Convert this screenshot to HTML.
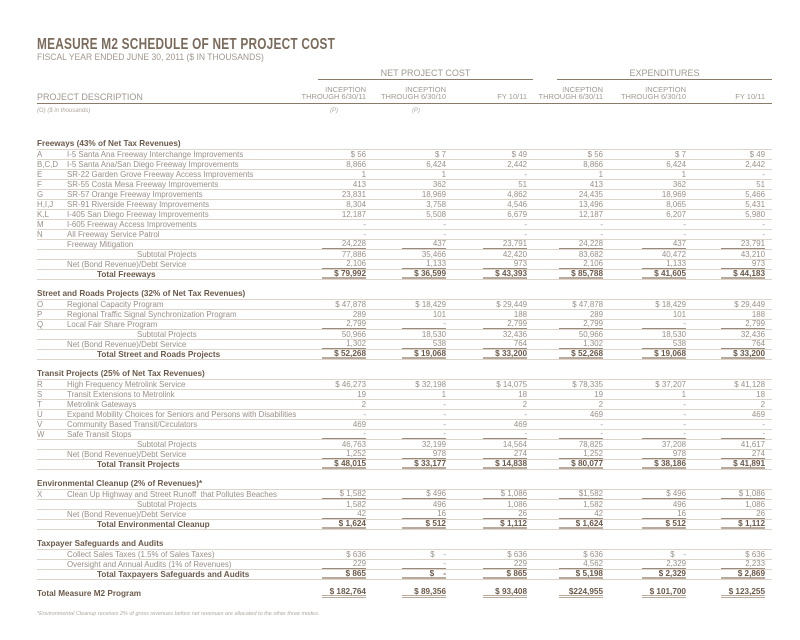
<!DOCTYPE html>
<html><head><meta charset="utf-8"><style>
*{margin:0;padding:0;box-sizing:border-box}
body{width:800px;height:640px;background:#fff;font-family:"Liberation Sans",sans-serif;color:#9a9088;position:relative;overflow:hidden}
.title{position:absolute;left:37px;top:36px;font-size:16px;font-weight:bold;color:#7b6b5b;transform:scaleX(0.74);transform-origin:left top;white-space:nowrap;letter-spacing:0.3px}
.sub{position:absolute;left:37px;top:52px;font-size:9.5px;color:#a09890;transform:scaleX(0.9);transform-origin:left top;white-space:nowrap}
.grp{position:absolute;top:68px;font-size:9px;color:#a09890;text-align:center;border-bottom:1.5px solid #8a7a6a;height:12px}
.ch{position:absolute;top:86px;font-size:7.5px;line-height:7px;color:#a09890;text-align:right}
.hline{position:absolute;left:37px;width:735px;top:103px;border-top:1.5px solid #8a7a6a}
.pd{position:absolute;left:37px;top:92px;font-size:9px;color:#a09890}
.it{position:absolute;top:108px;font-size:6px;font-style:italic;color:#b0a8a0}
table{position:absolute;left:37px;top:139px;border-collapse:collapse;table-layout:fixed;width:735px}
tr{height:10px}
td{height:9px;max-height:9px;font-size:7.9px;line-height:9px;padding:0;white-space:nowrap;overflow:visible;border-bottom:1px solid #ddd5cc;vertical-align:top}
td.n{text-align:right;padding-right:4px}
td.l{padding-right:7px}
tr.h td{color:#6b5a4a;font-weight:bold;font-size:8.2px}
tr.b td{border-bottom:none}
tr.s td.d{padding-left:70px}
tr.t td{color:#6b5a4a;font-weight:bold;font-size:8.2px}
tr.t td.d{padding-left:30px}
td span{display:inline-block;vertical-align:top;min-width:44px;text-align:right}
tr.t td.n span{border-bottom:2px solid #b8aa9c;line-height:7px;height:9px}
span.u{border-bottom:1px solid #9a8a7a;line-height:8px;height:9px}
tr.g td{border-bottom:none}
tr.g td.n span{border-bottom:3px double #b8aa9c;line-height:6px;height:9px}
.fn{position:absolute;left:37px;top:611px;font-size:5.5px;font-style:italic;color:#b0a8a0}
</style></head><body>
<div class="title">MEASURE M2 SCHEDULE OF NET PROJECT COST</div>
<div class="sub">FISCAL YEAR ENDED JUNE 30, 2011 ($ IN THOUSANDS)</div>
<div class="grp" style="left:318px;width:215px">NET PROJECT COST</div>
<div class="grp" style="left:557px;width:215px">EXPENDITURES</div>
<div class="ch" style="left:300px;width:66px">INCEPTION<br>THROUGH 6/30/11</div>
<div class="ch" style="left:370px;width:76px">INCEPTION<br>THROUGH 6/30/10</div>
<div class="ch" style="left:470px;width:57px;top:93px">FY 10/11</div>
<div class="ch" style="left:531px;width:72px">INCEPTION<br>THROUGH 6/30/11</div>
<div class="ch" style="left:607px;width:79px">INCEPTION<br>THROUGH 6/30/10</div>
<div class="ch" style="left:700px;width:65px;top:93px">FY 10/11</div>
<div class="pd">PROJECT DESCRIPTION</div>
<div class="hline"></div>
<div class="it" style="left:37px">(G) ($ in thousands)</div>
<div class="it" style="left:330px">(P)</div>
<div class="it" style="left:412px">(P)</div>
<table>
<colgroup><col style="width:30px"><col style="width:233px"><col style="width:70px"><col style="width:80px"><col style="width:81px"><col style="width:76px"><col style="width:83px"><col style="width:82px"></colgroup>
<tr class="h"><td colspan="8">Freeways (43% of Net Tax Revenues)</td></tr>
<tr><td>A</td><td class="d">I-5 Santa Ana Freeway Interchange Improvements</td><td class="n">$ 56</td><td class="n">$ 7</td><td class="n">$ 49</td><td class="n">$ 56</td><td class="n">$ 7</td><td class="n l">$ 49</td></tr>
<tr><td>B,C,D</td><td class="d">I-5 Santa Ana/San Diego Freeway Improvements</td><td class="n">8,866</td><td class="n">6,424</td><td class="n">2,442</td><td class="n">8,866</td><td class="n">6,424</td><td class="n l">2,442</td></tr>
<tr><td>E</td><td class="d">SR-22 Garden Grove Freeway Access Improvements</td><td class="n">1</td><td class="n">1</td><td class="n">-</td><td class="n">1</td><td class="n">1</td><td class="n l">-</td></tr>
<tr><td>F</td><td class="d">SR-55 Costa Mesa Freeway Improvements</td><td class="n">413</td><td class="n">362</td><td class="n">51</td><td class="n">413</td><td class="n">362</td><td class="n l">51</td></tr>
<tr><td>G</td><td class="d">SR-57 Orange Freeway Improvements</td><td class="n">23,831</td><td class="n">18,969</td><td class="n">4,862</td><td class="n">24,435</td><td class="n">18,969</td><td class="n l">5,466</td></tr>
<tr><td>H,I,J</td><td class="d">SR-91 Riverside Freeway Improvements</td><td class="n">8,304</td><td class="n">3,758</td><td class="n">4,546</td><td class="n">13,496</td><td class="n">8,065</td><td class="n l">5,431</td></tr>
<tr><td>K,L</td><td class="d">I-405 San Diego Freeway Improvements</td><td class="n">12,187</td><td class="n">5,508</td><td class="n">6,679</td><td class="n">12,187</td><td class="n">6,207</td><td class="n l">5,980</td></tr>
<tr><td>M</td><td class="d">I-605 Freeway Access Improvements</td><td class="n">-</td><td class="n">-</td><td class="n">-</td><td class="n">-</td><td class="n">-</td><td class="n l">-</td></tr>
<tr><td>N</td><td class="d">All Freeway Service Patrol</td><td class="n">-</td><td class="n">-</td><td class="n">-</td><td class="n">-</td><td class="n">-</td><td class="n l">-</td></tr>
<tr><td></td><td class="d">Freeway Mitigation</td><td class="n"><span class="u">24,228</span></td><td class="n"><span class="u">437</span></td><td class="n"><span class="u">23,791</span></td><td class="n"><span class="u">24,228</span></td><td class="n"><span class="u">437</span></td><td class="n l"><span class="u">23,791</span></td></tr>
<tr class="s"><td></td><td class="d">Subtotal Projects</td><td class="n">77,886</td><td class="n">35,466</td><td class="n">42,420</td><td class="n">83,682</td><td class="n">40,472</td><td class="n l">43,210</td></tr>
<tr><td></td><td class="d">Net (Bond Revenue)/Debt Service</td><td class="n"><span class="u">2,106</span></td><td class="n"><span class="u">1,133</span></td><td class="n"><span class="u">973</span></td><td class="n"><span class="u">2,106</span></td><td class="n"><span class="u">1,133</span></td><td class="n l"><span class="u">973</span></td></tr>
<tr class="t"><td></td><td class="d">Total Freeways</td><td class="n"><span>$ 79,992</span></td><td class="n"><span>$ 36,599</span></td><td class="n"><span>$ 43,393</span></td><td class="n"><span>$ 85,788</span></td><td class="n"><span>$ 41,605</span></td><td class="n l"><span>$ 44,183</span></td></tr>
<tr class="b"><td colspan="8"></td></tr>
<tr class="h"><td colspan="8">Street and Roads Projects (32% of Net Tax Revenues)</td></tr>
<tr><td>O</td><td class="d">Regional Capacity Program</td><td class="n">$ 47,878</td><td class="n">$ 18,429</td><td class="n">$ 29,449</td><td class="n">$ 47,878</td><td class="n">$ 18,429</td><td class="n l">$ 29,449</td></tr>
<tr><td>P</td><td class="d">Regional Traffic Signal Synchronization Program</td><td class="n">289</td><td class="n">101</td><td class="n">188</td><td class="n">289</td><td class="n">101</td><td class="n l">188</td></tr>
<tr><td>Q</td><td class="d">Local Fair Share Program</td><td class="n"><span class="u">2,799</span></td><td class="n"><span class="u">-</span></td><td class="n"><span class="u">2,799</span></td><td class="n"><span class="u">2,799</span></td><td class="n"><span class="u">-</span></td><td class="n l"><span class="u">2,799</span></td></tr>
<tr class="s"><td></td><td class="d">Subtotal Projects</td><td class="n">50,966</td><td class="n">18,530</td><td class="n">32,436</td><td class="n">50,966</td><td class="n">18,530</td><td class="n l">32,436</td></tr>
<tr><td></td><td class="d">Net (Bond Revenue)/Debt Service</td><td class="n"><span class="u">1,302</span></td><td class="n"><span class="u">538</span></td><td class="n"><span class="u">764</span></td><td class="n"><span class="u">1,302</span></td><td class="n"><span class="u">538</span></td><td class="n l"><span class="u">764</span></td></tr>
<tr class="t"><td></td><td class="d">Total Street and Roads Projects</td><td class="n"><span>$ 52,268</span></td><td class="n"><span>$ 19,068</span></td><td class="n"><span>$ 33,200</span></td><td class="n"><span>$ 52,268</span></td><td class="n"><span>$ 19,068</span></td><td class="n l"><span>$ 33,200</span></td></tr>
<tr class="b"><td colspan="8"></td></tr>
<tr class="h"><td colspan="8">Transit Projects (25% of Net Tax Revenues)</td></tr>
<tr><td>R</td><td class="d">High Frequency Metrolink Service</td><td class="n">$ 46,273</td><td class="n">$ 32,198</td><td class="n">$ 14,075</td><td class="n">$ 78,335</td><td class="n">$ 37,207</td><td class="n l">$ 41,128</td></tr>
<tr><td>S</td><td class="d">Transit Extensions to Metrolink</td><td class="n">19</td><td class="n">1</td><td class="n">18</td><td class="n">19</td><td class="n">1</td><td class="n l">18</td></tr>
<tr><td>T</td><td class="d">Metrolink Gateways</td><td class="n">2</td><td class="n">-</td><td class="n">2</td><td class="n">2</td><td class="n">-</td><td class="n l">2</td></tr>
<tr><td>U</td><td class="d">Expand Mobility Choices for Seniors and Persons with Disabilities</td><td class="n">-</td><td class="n">-</td><td class="n">-</td><td class="n">469</td><td class="n">-</td><td class="n l">469</td></tr>
<tr><td>V</td><td class="d">Community Based Transit/Circulators</td><td class="n">469</td><td class="n">-</td><td class="n">469</td><td class="n">-</td><td class="n">-</td><td class="n l">-</td></tr>
<tr><td>W</td><td class="d">Safe Transit Stops</td><td class="n"><span class="u">-</span></td><td class="n"><span class="u">-</span></td><td class="n"><span class="u">-</span></td><td class="n"><span class="u">-</span></td><td class="n"><span class="u">-</span></td><td class="n l"><span class="u">-</span></td></tr>
<tr class="s"><td></td><td class="d">Subtotal Projects</td><td class="n">46,763</td><td class="n">32,199</td><td class="n">14,564</td><td class="n">78,825</td><td class="n">37,208</td><td class="n l">41,617</td></tr>
<tr><td></td><td class="d">Net (Bond Revenue)/Debt Service</td><td class="n"><span class="u">1,252</span></td><td class="n"><span class="u">978</span></td><td class="n"><span class="u">274</span></td><td class="n"><span class="u">1,252</span></td><td class="n"><span class="u">978</span></td><td class="n l"><span class="u">274</span></td></tr>
<tr class="t"><td></td><td class="d">Total Transit Projects</td><td class="n"><span>$ 48,015</span></td><td class="n"><span>$ 33,177</span></td><td class="n"><span>$ 14,838</span></td><td class="n"><span>$ 80,077</span></td><td class="n"><span>$ 38,186</span></td><td class="n l"><span>$ 41,891</span></td></tr>
<tr class="b"><td colspan="8"></td></tr>
<tr class="h"><td colspan="8">Environmental Cleanup (2% of Revenues)*</td></tr>
<tr><td>X</td><td class="d">Clean Up Highway and Street Runoff&nbsp; that Pollutes Beaches</td><td class="n"><span class="u">$ 1,582</span></td><td class="n"><span class="u">$ 496</span></td><td class="n"><span class="u">$ 1,086</span></td><td class="n"><span class="u">$1,582</span></td><td class="n"><span class="u">$ 496</span></td><td class="n l"><span class="u">$ 1,086</span></td></tr>
<tr class="s"><td></td><td class="d">Subtotal Projects</td><td class="n">1,582</td><td class="n">496</td><td class="n">1,086</td><td class="n">1,582</td><td class="n">496</td><td class="n l">1,086</td></tr>
<tr><td></td><td class="d">Net (Bond Revenue)/Debt Service</td><td class="n"><span class="u">42</span></td><td class="n"><span class="u">16</span></td><td class="n"><span class="u">26</span></td><td class="n"><span class="u">42</span></td><td class="n"><span class="u">16</span></td><td class="n l"><span class="u">26</span></td></tr>
<tr class="t"><td></td><td class="d">Total Environmental Cleanup</td><td class="n"><span>$ 1,624</span></td><td class="n"><span>$ 512</span></td><td class="n"><span>$ 1,112</span></td><td class="n"><span>$ 1,624</span></td><td class="n"><span>$ 512</span></td><td class="n l"><span>$ 1,112</span></td></tr>
<tr class="b"><td colspan="8"></td></tr>
<tr class="h"><td colspan="8">Taxpayer Safeguards and Audits</td></tr>
<tr><td></td><td class="d">Collect Sales Taxes (1.5% of Sales Taxes)</td><td class="n">$ 636</td><td class="n">$&nbsp;&nbsp;&nbsp; -</td><td class="n">$ 636</td><td class="n">$ 636</td><td class="n">$&nbsp;&nbsp;&nbsp; -</td><td class="n l">$ 636</td></tr>
<tr><td></td><td class="d">Oversight and Annual Audits (1% of Revenues)</td><td class="n"><span class="u">229</span></td><td class="n"><span class="u">-</span></td><td class="n"><span class="u">229</span></td><td class="n"><span class="u">4,562</span></td><td class="n"><span class="u">2,329</span></td><td class="n l"><span class="u">2,233</span></td></tr>
<tr class="t"><td></td><td class="d">Total Taxpayers Safeguards and Audits</td><td class="n"><span>$ 865</span></td><td class="n"><span>$&nbsp;&nbsp;&nbsp; -</span></td><td class="n"><span>$ 865</span></td><td class="n"><span>$ 5,198</span></td><td class="n"><span>$ 2,329</span></td><td class="n l"><span>$ 2,869</span></td></tr>
<tr class="b"><td colspan="8"></td></tr>
<tr class="t g"><td colspan="2" style="color:#6b5a4a">Total Measure M2 Program</td><td class="n"><span>$ 182,764</span></td><td class="n"><span>$ 89,356</span></td><td class="n"><span>$ 93,408</span></td><td class="n"><span>$224,955</span></td><td class="n"><span>$ 101,700</span></td><td class="n l"><span>$ 123,255</span></td></tr>
</table>
<div class="fn">*Environmental Cleanup receives 2% of gross revenues before net revenues are allocated to the other three modes.</div>
</body></html>
